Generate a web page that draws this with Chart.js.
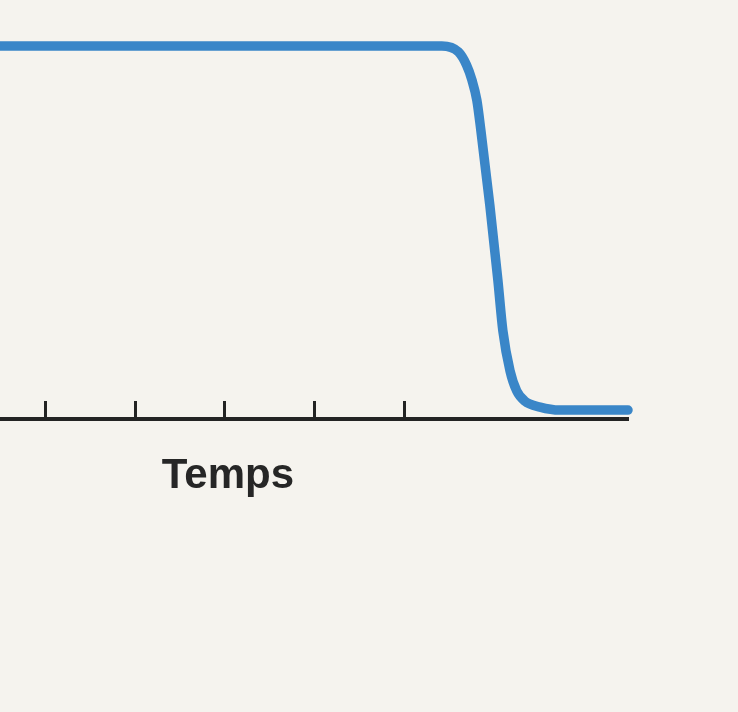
<!DOCTYPE html>
<html>
<head>
<meta charset="utf-8">
<script src="https://cdn.jsdelivr.net/npm/chart.js@4.4.1/dist/chart.umd.min.js"></script>
<style>
  html, body { margin: 0; padding: 0; background: #f5f3ee; }
  #wrap { width: 738px; height: 712px; }
</style>
</head>
<body>
<div id="wrap"><canvas id="chart" width="738" height="712"></canvas></div>
<script>
// time (x) and level (y) of the blue curve
const timeValues  = [0, 9.85, 10.22, 10.40, 10.52, 10.63, 10.72, 10.92, 11.10, 11.21, 11.37, 11.52, 11.70, 12.04, 12.48, 14];
const levelValues = [10, 10, 9.84, 9.49, 9.09, 8.55, 7.74, 5.73, 3.71, 2.37, 1.29, 0.75, 0.48, 0.32, 0.24, 0.24];

// tick positions on the time axis
const tickValues = [1, 3, 5, 7, 9];
const axisTitle = 'Temps';
const titleAt = 5.08;

const points = timeValues.map((t, i) => ({ x: t, y: levelValues[i] }));

// ticks pointing up from the axis + the axis title under it
const axisDecor = {
    id: 'axisDecor',
    beforeDatasetsDraw(chart) {
        const ctx = chart.ctx;
        const xs = chart.scales.x;
        const base = chart.chartArea.bottom;
        ctx.save();
        ctx.strokeStyle = '#232323';
        ctx.lineWidth = 3;
        tickValues.forEach(v => {
            const px = Math.round(xs.getPixelForValue(v)) + 0.5;
            ctx.beginPath();
            ctx.moveTo(px, base - 1);
            ctx.lineTo(px, base - 18);
            ctx.stroke();
        });
        ctx.fillStyle = '#262626';
        ctx.font = 'bold 42px "Comic Sans MS", "Liberation Sans", sans-serif';
        ctx.textAlign = 'center';
        ctx.textBaseline = 'alphabetic';
        ctx.fillText(axisTitle, xs.getPixelForValue(titleAt), base + 69);
        ctx.restore();
    }
};

new Chart(document.getElementById('chart'), {
    type: 'line',
    data: {
        datasets: [{
            data: points,
            borderColor: '#3a86c8',
            borderWidth: 9.5,
            borderCapStyle: 'round',
            borderJoinStyle: 'round',
            cubicInterpolationMode: 'monotone',
            pointRadius: 0,
            fill: false,
            clip: false
        }]
    },
    options: {
        responsive: false,
        devicePixelRatio: 1,
        animation: false,
        layout: { padding: { top: 46, bottom: 285, left: 0, right: 110 } },
        plugins: { legend: { display: false }, tooltip: { enabled: false } },
        scales: {
            x: {
                type: 'linear',
                min: 0,
                max: 14,
                grid: { display: false },
                ticks: { display: false },
                border: { display: true, color: '#232323', width: 4 }
            },
            y: {
                display: false,
                min: 0,
                max: 10
            }
        }
    },
    plugins: [axisDecor]
});
</script>
</body>
</html>
